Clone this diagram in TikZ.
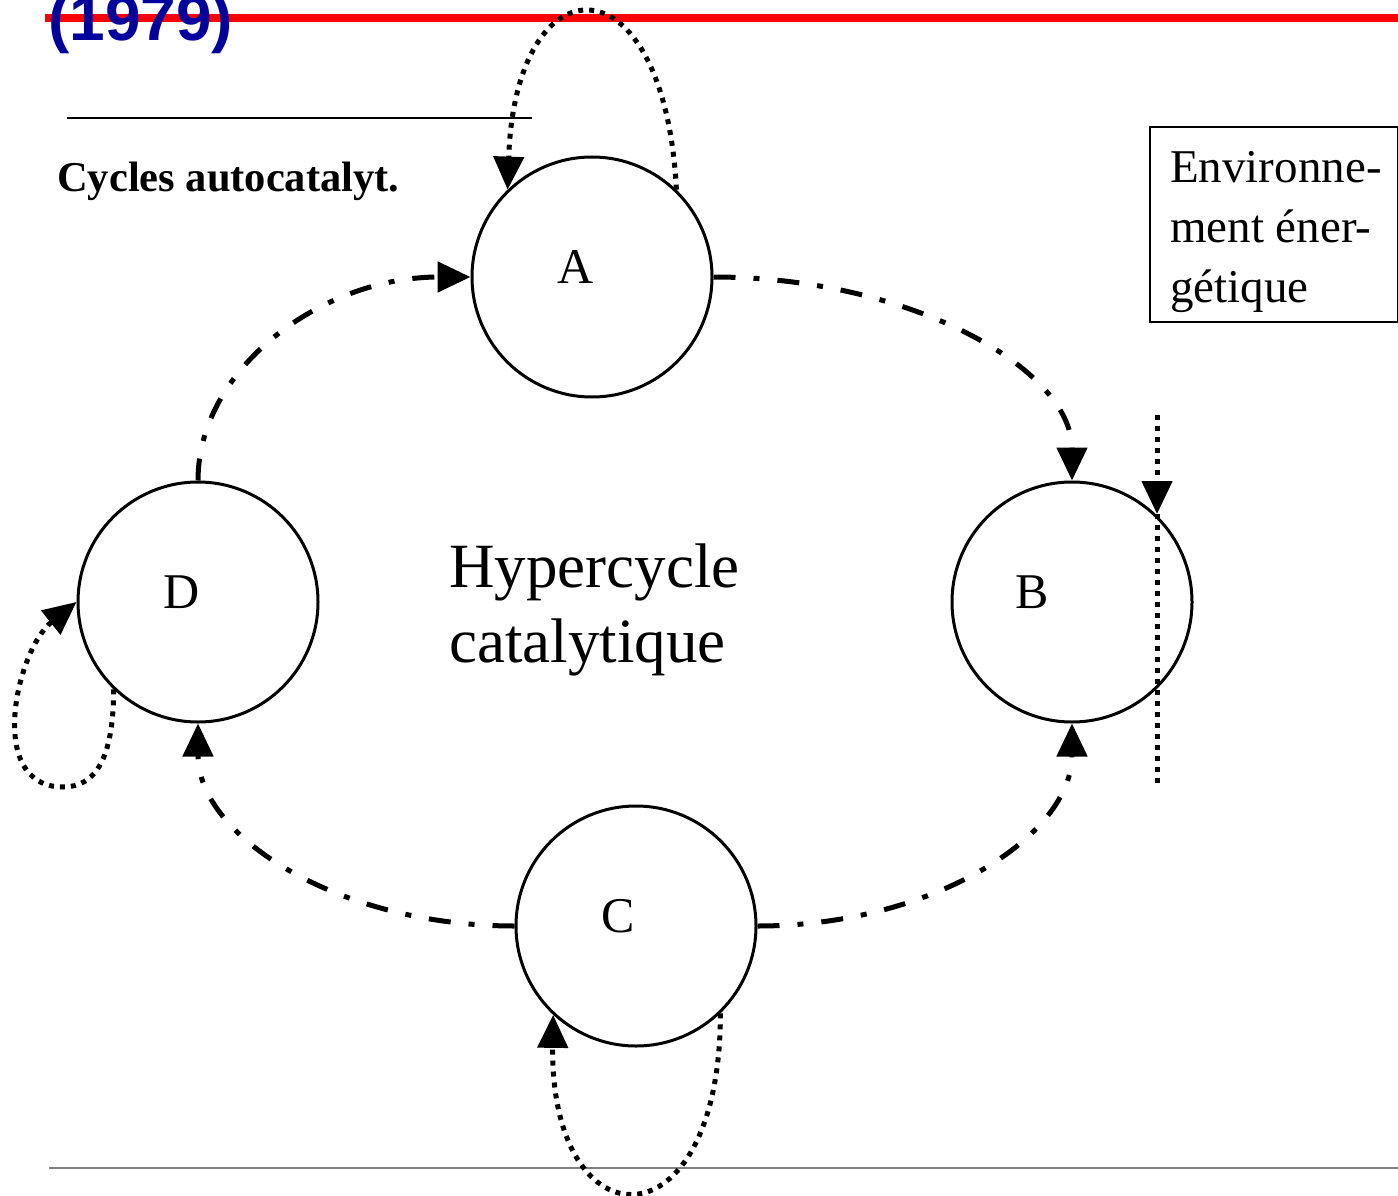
\documentclass[tikz,border=0pt]{standalone}
\usepackage{fontspec}
\setmainfont{Liberation Serif}
\newfontfamily\titlefont{Liberation Sans}
\usetikzlibrary{arrows.meta}
\definecolor{titleblue}{RGB}{0,0,160}
\begin{document}
\begin{tikzpicture}[x=1pt,y=-1pt,
  cnode/.style={circle,draw,line width=3pt,minimum size=240pt,inner sep=0pt},
  lbl/.style={font=\fontsize{50}{60}\selectfont,anchor=base,inner sep=0pt},
  dd/.style={line width=5pt,dash pattern=on 22pt off 18pt on 6pt off 18pt},
  dt/.style={line width=5pt,dash pattern=on 5pt off 6pt},
  tip/.style={-{Triangle[length=33pt,width=30pt]}}]
\useasboundingbox (0,0) rectangle (1398,1196);
% header
\draw[red,line width=8pt] (45,18) -- (1398,18);
\node[font=\titlefont\bfseries\fontsize{64}{70}\selectfont,text=titleblue,anchor=base west,inner sep=0pt] (title) at (48,41) {(1979)};
\draw[line width=2pt] (67,118) -- (532,118);
\node[font=\bfseries\fontsize{42.5}{50}\selectfont,anchor=base west,inner sep=0pt] (cyc) at (57,192) {Cycles autocatalyt.};
% bottom rule
\draw[gray,line width=2pt] (49,1168) -- (1398,1168);
% circles
\node[cnode] (A) at (592,277) {};
\node[cnode] (B) at (1072,602) {};
\node[cnode] (C) at (636,926) {};
\node[cnode] (D) at (198,602) {};
\node[lbl] (lA) at (576,283) {A};
\node[lbl] (lB) at (1032,608) {B};
\node[lbl] (lC) at (618,932) {C};
\node[lbl] (lD) at (182,608) {D};
% hypercycle arcs
\draw[dd,tip] (A.east) .. controls +(196,0) and +(0,-112) .. (B.north);
\draw[dd,tip] (C.east) .. controls +(174,0) and +(0,113) .. (B.south);
\draw[dd,tip] (C.west) .. controls +(-176,0) and +(0,113) .. (D.south);
\draw[dd,tip] (D.north) .. controls +(0,-112) and +(-149,0) .. (A.west);
% self loops
\draw[dt,tip] (A.46) .. controls +(-12,-235) and +(8,-233) .. (A.134);
\draw[dt,tip] (C.-46) .. controls +(0,237) and +(-3,233) .. (C.-133);
\coordinate (dlow) at (63,787);
\draw[dt,tip] (D.-134) .. controls +(0,70) and +(32,0) .. (dlow) .. controls +(-78,0) and +(-60,48) .. (D.west);
% energy input
\coordinate (vt) at (1157,415);
\coordinate (vm) at (1157,514);
\coordinate (vb) at (1157,787);
\draw[dt,tip] (vt) -- (vm);
\draw[dt] (vm) -- (vb);
% texts
\node[draw,line width=2pt,minimum width=248pt,minimum height=195pt,anchor=north west,inner sep=0pt] (box) at (1149,126) {};
\node[font=\fontsize{47}{60}\selectfont,align=left,anchor=north west,inner sep=0pt] (envtxt) at (1170,151) {Environne-\\ment éner-\\gétique};
\node[font=\fontsize{63}{75}\selectfont,align=left,anchor=north west,inner sep=0pt] (hyp) at (449,544) {Hypercycle\\catalytique};
\end{tikzpicture}
\end{document}
